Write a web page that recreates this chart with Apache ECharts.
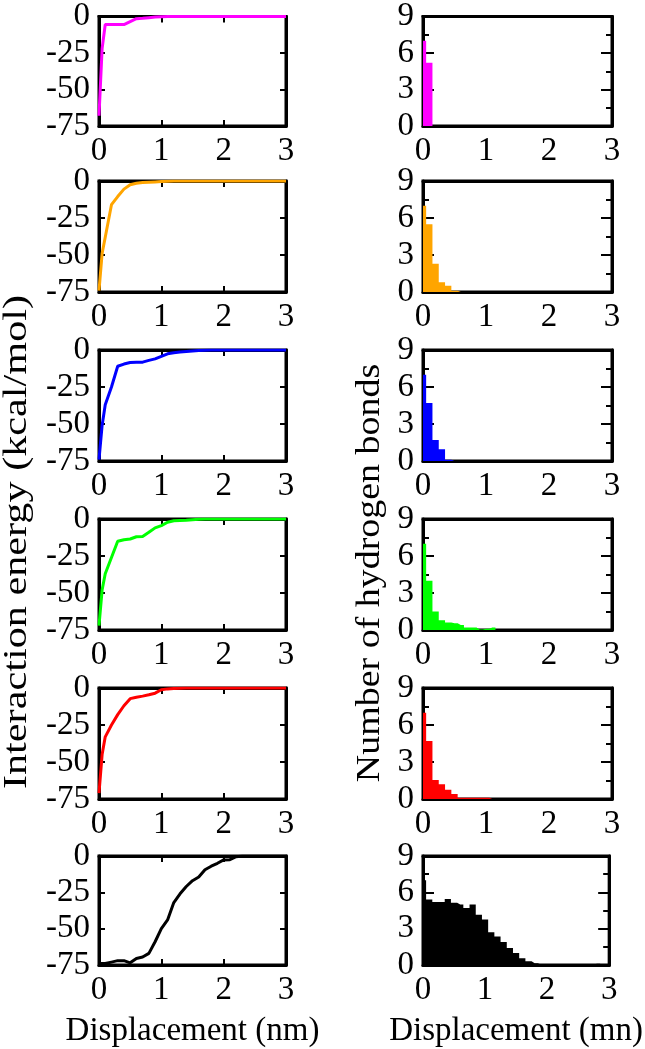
<!DOCTYPE html>
<html><head><meta charset="utf-8">
<script src="https://cdn.jsdelivr.net/npm/echarts@6/dist/echarts.min.js"></script>
<style>html,body{margin:0;padding:0;background:#fff}#c{width:645px;height:1049px}</style>
</head><body><div id="c"></div>
<script>
// ---- data ----
const displacement = [0,0.05,0.1,0.2,0.3,0.4,0.5,0.6,0.7,0.8,0.9,1.0,1.1,1.2,1.3,1.4,1.5,1.6,1.7,1.8,1.9,2.0,2.1,2.2,2.3,2.4,2.5,2.6,2.7,2.8,2.9,3.0];
const energyMagenta = [-68,-22,-5.5,-5.5,-5.5,-5.5,-3.5,-1.5,-1.2,-0.8,-0.4,-0.1,0,0,0,0,0,0,0,0,0,0,0,0,0,0,0,0,0,0,0,0];
const energyOrange  = [-74,-49,-38,-16,-10.5,-5.5,-2.5,-1.5,-1,-0.8,-0.6,-0.4,-0.2,0,0,0,0,0,0,0,0,0,0,0,0,0,0,0,0,0,0,0];
const energyBlue    = [-74,-51,-37,-25,-11,-9.5,-8.5,-8.3,-8.2,-7,-6,-4.3,-2.6,-1.8,-1.4,-1,-0.6,-0.3,-0.1,0,0,0,0,0,0,0,0,0,0,0,0,0];
const energyGreen   = [-72,-48,-37,-26,-15,-14,-13.5,-12,-11.8,-9,-6,-4.5,-2.2,-1.2,-1,-0.8,-0.5,-0.2,0,0,0,0,0,0,0,0,0,0,0,0,0,0];
const energyRed     = [-71,-45,-33,-25,-18,-12,-7.2,-6.2,-5.5,-4.6,-3.5,-1.2,-0.6,-0.3,-0.1,0,0,0,0,0,0,0,0,0,0,0,0,0,0,0,0,0];
const energyBlack   = [-74,-74,-74,-73,-72,-72,-73.5,-70.5,-69.5,-67,-59,-50,-44,-32,-26,-21,-17,-14.5,-9.5,-7,-5,-2.7,-2.5,-0.5,0,0,0,0,0,0,0,0];

const binCenters = [0,0.1,0.2,0.3,0.4,0.5,0.6,0.7,0.8,0.9,1.0,1.1,1.2,1.3,1.4,1.5,1.6,1.7,1.8,1.9,2.0,2.1,2.2,2.3,2.4,2.5,2.6,2.7,2.8,2.9,3.0];
const hbMagenta = [7.0,5.2,0,0,0,0,0,0,0,0,0,0,0,0,0,0,0,0,0,0,0,0,0,0,0,0,0,0,0,0,0];
const hbOrange  = [7.0,5.5,2.3,0.8,0.5,0.1,0,0,0,0,0,0,0,0,0,0,0,0,0,0,0,0,0,0,0,0,0,0,0,0,0];
const hbBlue    = [7.0,4.7,1.7,0.95,0.1,0,0,0,0,0,0,0,0,0,0,0,0,0,0,0,0,0,0,0,0,0,0,0,0,0,0];
const hbGreen   = [7.0,4.0,1.5,0.8,0.6,0.55,0.4,0.2,0.2,0.05,0.1,0.2,0,0,0,0,0,0,0,0,0,0,0,0,0,0,0,0,0,0,0];
const hbRed     = [7.0,4.7,1.55,1.2,0.75,0.4,0.1,0.1,0.1,0.1,0.1,0,0,0,0,0,0,0,0,0,0,0,0,0,0,0,0,0,0,0,0];
const hbBlack   = [7.0,5.4,5.2,5.2,5.45,5.15,5.0,4.7,5.0,4.15,3.75,2.7,2.35,1.9,1.4,1.0,0.55,0.3,0.15,0.05,0,0,0,0,0,0,0,0,0.1,0,0];

const seriesColors = ['#ff00ff','#ffa500','#0000ff','#00ff00','#ff0000','#000000'];
const energySets = [energyMagenta,energyOrange,energyBlue,energyGreen,energyRed,energyBlack];
const hbSets = [hbMagenta,hbOrange,hbBlue,hbGreen,hbRed,hbBlack];

const xRange = [0,3], xStep = 1;
const energyRange = [-75,0], energyStep = 25;
const hbRange = [0,9], hbStep = 3;
const leftYTitle = 'Interaction energy (kcal/mol)';
const rightYTitle = 'Number of hydrogen bonds';
const leftXTitle = 'Displacement (nm)';
const rightXTitle = 'Displacement (mn)';

// ---- layout ----
const FONT = 'Liberation Serif';
const FS = 33;
const BW = 3;
const tops = [15,181,350,519,688,856];
const H = 111;
const grids = [], xAxes = [], yAxes = [], series = [];
const lbl = () => ({fontFamily:FONT, fontSize:FS, color:'#000'});
const AL = () => ({show:true, onZero:false, lineStyle:{color:'#000', width:BW}});

function boxSeries(xi, yi, xr, yr){
  return {type:'custom', xAxisIndex:xi, yAxisIndex:yi, z:0, silent:true, clip:false,
    data:[[xr[0], yr[0], xr[1], yr[1]]],
    encode:{x:[0,2], y:[1,3]},
    renderItem:(params, api)=>{
      const p0 = api.coord([api.value(0), api.value(1)]);
      const p1 = api.coord([api.value(2), api.value(3)]);
      return {type:'rect', shape:{x:Math.min(p0[0],p1[0]), y:Math.min(p0[1],p1[1]),
        width:Math.abs(p1[0]-p0[0]), height:Math.abs(p1[1]-p0[1])},
        style:{fill:null, stroke:'#000', lineWidth:BW}};
    }};
}

tops.forEach((t,i)=>{
  const isLast = i === tops.length-1;
  // left panel
  const gl = grids.length;
  grids.push({left:99, top:t, width:187, height:H});
  const xb = () => ({gridIndex:gl, type:'value', min:xRange[0], max:xRange[1], interval:xStep,
    axisLine:AL(), splitLine:{show:false},
    axisTick:{inside:true, length:6, lineStyle:{color:'#000', width:2}}});
  xAxes.push(Object.assign(xb(), {position:'bottom', axisLabel:Object.assign({margin:9}, lbl()),
    name: isLast ? leftXTitle : '', nameLocation:'middle', nameGap:50, nameTextStyle:lbl()}));
  xAxes.push(Object.assign(xb(), {position:'top', axisLabel:{show:false}}));
  const yb = () => ({gridIndex:gl, type:'value', min:energyRange[0], max:energyRange[1], interval:energyStep,
    axisLine:AL(), splitLine:{show:false},
    axisTick:{inside:true, length:6, lineStyle:{color:'#000', width:2}}});
  yAxes.push(Object.assign(yb(), {position:'left', axisLabel:Object.assign({margin:9}, lbl())}));
  yAxes.push(Object.assign(yb(), {position:'right', axisLabel:{show:false}}));
  const lxi = xAxes.length-2, lyi = yAxes.length-2;
  series.push(boxSeries(lxi, lyi, xRange, energyRange));
  series.push({type:'line', xAxisIndex:lxi, yAxisIndex:lyi,
    data: displacement.map((x,k)=>[x, energySets[i][k]]), showSymbol:false, symbol:'none',
    lineStyle:{color:seriesColors[i], width:3}, clip:true, z:1});

  // right panel
  const gr = grids.length;
  grids.push({left:423, top:t, width:189, height:H});
  const xr = () => ({gridIndex:gr, type:'value', min:xRange[0], max:xRange[1], interval:xStep,
    axisLine:AL(), splitLine:{show:false}, axisTick:{show:false}});
  xAxes.push(Object.assign(xr(), {position:'bottom', axisLabel:Object.assign({margin:9}, lbl()),
    name: isLast ? rightXTitle : '', nameLocation:'middle', nameGap:50, nameTextStyle:lbl()}));
  xAxes.push(Object.assign(xr(), {position:'top', axisLabel:{show:false}}));
  const yr = () => ({gridIndex:gr, type:'value', min:hbRange[0], max:hbRange[1], interval:hbStep,
    axisLine:AL(), splitLine:{show:false},
    axisTick:{inside:true, length:11, lineStyle:{color:'#000', width:2}},
    minorTick:{show:true, splitNumber:2, length:6, lineStyle:{color:'#000', width:2}}});
  yAxes.push(Object.assign(yr(), {position:'left', axisLabel:Object.assign({margin:9}, lbl())}));
  yAxes.push(Object.assign(yr(), {position:'right', axisLabel:{show:false}}));
  const rxi = xAxes.length-2, ryi = yAxes.length-2;
  series.push(boxSeries(rxi, ryi, xRange, hbRange));
  series.push({type:'line', xAxisIndex:rxi, yAxisIndex:ryi, step:'middle',
    data: binCenters.map((x,k)=>[x, hbSets[i][k]]), showSymbol:false, symbol:'none',
    lineStyle:{width:0, color:seriesColors[i]}, areaStyle:{color:seriesColors[i], opacity:1}, clip:true, z:1});
});

const chart = echarts.init(document.getElementById('c'), null, {renderer:'canvas'});
chart.setOption({
  animation:false,
  backgroundColor:'#fff',
  grid:grids, xAxis:xAxes, yAxis:yAxes, series:series,
  graphic:[
    {type:'text', x:17, y:542, rotation:Math.PI/2, scaleX:1.28,
     style:{text:leftYTitle, font:FS+'px "'+FONT+'"', fill:'#000', textAlign:'center', textVerticalAlign:'middle', align:'center', verticalAlign:'middle'}},
    {type:'text', x:370, y:573, rotation:Math.PI/2, scaleX:1.15,
     style:{text:rightYTitle, font:FS+'px "'+FONT+'"', fill:'#000', textAlign:'center', textVerticalAlign:'middle', align:'center', verticalAlign:'middle'}}
  ]
});
</script></body></html>
